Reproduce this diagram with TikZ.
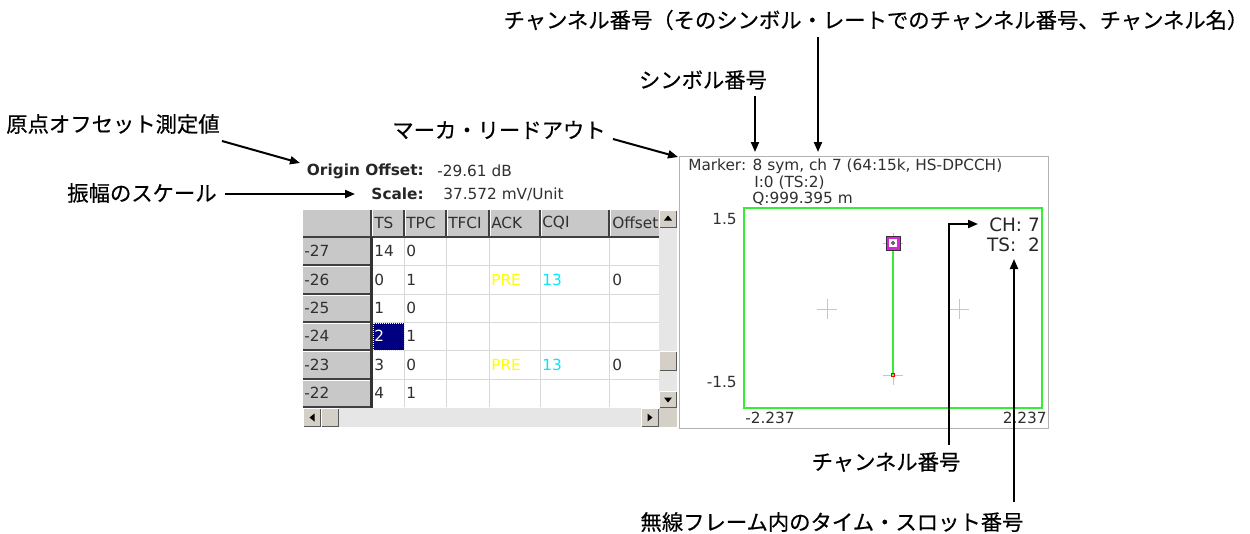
\documentclass[tikz,border=0pt]{standalone}
\usepackage{fontspec}
\setmainfont{DejaVu Sans}
\newfontfamily\cjk{Noto Sans CJK JP}[FakeBold=0.5]
\usetikzlibrary{arrows.meta}
\definecolor{uitext}{HTML}{303030}
\definecolor{btn}{HTML}{D4D0C8}
\definecolor{hdr}{HTML}{C8C8C8}
\definecolor{gridc}{HTML}{D8D8D8}
\definecolor{sel}{HTML}{000080}
\definecolor{trk}{HTML}{E6E6E6}
\definecolor{pgreen}{HTML}{33EE33}
\definecolor{mag}{HTML}{E020E0}
\definecolor{pre}{HTML}{FFFF00}
\definecolor{cqi}{HTML}{00E8FF}
\newcommand\mybtn[4]{%
  \fill[btn] (#1,#2) rectangle (#3,#4);
  \draw[white,line width=0.8pt] (#1+0.5,#4-0.5)--(#1+0.5,#2+0.5)--(#3-0.5,#2+0.5);
  \draw[black!65,line width=0.8pt] (#1+0.5,#4-0.5)--(#3-0.5,#4-0.5)--(#3-0.5,#2+0.5);}
\begin{document}
\begin{tikzpicture}[x=0.75pt,y=-0.75pt,
  lbl/.style={font=\cjk\fontsize{16}{18}\selectfont, inner sep=0pt},
  ui/.style={font=\fontsize{11.5}{13}\selectfont, text=uitext, inner sep=0pt},
  uib/.style={font=\bfseries\fontsize{11.5}{13}\selectfont, text=black!85, inner sep=0pt},
  cellt/.style={ui, anchor=west},
  big/.style={font=\fontsize{13.8}{15}\selectfont, text=black!85, inner sep=0pt},
  arr/.style={line width=1.5pt, -{Triangle[length=7.5pt,width=6pt]}},
  cross/.style={gray!45, line width=0.6pt}]
\useasboundingbox (0,0) rectangle (1250,533);

% ---------------- left panel: table ----------------
\node[uib, anchor=east] (oolbl) at (424,171) {Origin Offset:};
\node[ui, anchor=west] (ooval) at (437,171) {-29.61 dB};
\node[uib, anchor=east] (sclbl) at (424,194) {Scale:};
\node[ui, anchor=west] (scval) at (443,194) {37.572 mV/Unit};

\fill[hdr] (303,210) rectangle (659,237);
\fill[hdr] (303,237) rectangle (371,407);
\fill[white] (372,237) rectangle (659,407);
\foreach \y in {265,294,322,350,379} \draw[gridc] (372,\y)--(659,\y);
\foreach \x in {404,446,489,540,609} \draw[gridc] (\x,237)--(\x,407);
\foreach \x in {371,404,446,489,540,609} {
  \draw[black!75,line width=1.2pt] (\x,210)--(\x,237);
  \draw[white,line width=0.8pt] (\x+1.5,210)--(\x+1.5,236);}
\draw[black!75,line width=1.4pt] (303,237)--(659,237);
\foreach \y in {265,294,322,350,379,407} {
  \draw[black!75,line width=1.2pt] (303,\y)--(371,\y);
  \draw[white,line width=0.8pt] (303,\y+1.5)--(370,\y+1.5);}
\draw[black!80,line width=1.6pt] (371.5,237)--(371.5,408);
% selected cell
\fill[sel] (373,323) rectangle (404,350);
\draw[white,densely dotted,line width=0.5pt] (373,323) rectangle (404,350);

% header texts
\node[cellt] (hTS) at (374,223) {TS};
\node[cellt] (hTPC) at (406,223) {TPC};
\node[cellt] (hTFCI) at (448,223) {TFCI};
\node[cellt] (hACK) at (491,223) {ACK};
\node[cellt] (hCQI) at (542,223) {CQI};
\node[cellt] (hOff) at (612,223) {Offset};
% row headers
\node[cellt] (r1) at (304,251) {-27};
\node[cellt] (r2) at (304,279.5) {-26};
\node[cellt] (r3) at (304,308) {-25};
\node[cellt] (r4) at (304,336) {-24};
\node[cellt] (r5) at (304,364.5) {-23};
\node[cellt] (r6) at (304,393) {-22};
% cells
\node[cellt] (c11) at (374,251) {14};
\node[cellt] (c12) at (406,251) {0};
\node[cellt] (c21) at (374,279.5) {0};
\node[cellt] (c22) at (406,279.5) {1};
\node[cellt, text=pre] (c24) at (491,279.5) {PRE};
\node[cellt, text=cqi] (c25) at (542,279.5) {13};
\node[cellt] (c26) at (612,279.5) {0};
\node[cellt] (c31) at (374,308) {1};
\node[cellt] (c32) at (406,308) {0};
\node[cellt, text=white] (c41) at (374,336) {2};
\node[cellt] (c42) at (406,336) {1};
\node[cellt] (c51) at (374,364.5) {3};
\node[cellt] (c52) at (406,364.5) {0};
\node[cellt, text=pre] (c54) at (491,364.5) {PRE};
\node[cellt, text=cqi] (c55) at (542,364.5) {13};
\node[cellt] (c56) at (612,364.5) {0};
\node[cellt] (c61) at (374,393) {4};
\node[cellt] (c62) at (406,393) {1};

% vertical scrollbar
\fill[trk] (659,210) rectangle (677,408);
\mybtn{659}{210}{677}{228}
\fill[black] (668,215.5)--(664,220.5)--(672,220.5)--cycle;
\mybtn{659}{351}{677}{371}
\mybtn{659}{391}{677}{408}
\fill[black] (668,402.5)--(664,397.5)--(672,397.5)--cycle;
% horizontal scrollbar
\fill[trk] (303,408) rectangle (659,427);
\mybtn{303}{408}{321}{427}
\fill[black] (309.5,417.5)--(314.5,413.5)--(314.5,421.5)--cycle;
\mybtn{321}{408}{339}{427}
\mybtn{641}{408}{659}{427}
\fill[black] (652.5,417.5)--(647.5,413.5)--(647.5,421.5)--cycle;
\fill[btn] (659,408) rectangle (677,427);

% ---------------- right panel: constellation ----------------
\draw[gray!60, fill=white] (679,156) rectangle (1048,428);
\node[ui, anchor=west] (mk1) at (688,166) {Marker: 8 sym, ch 7 (64:15k, HS-DPCCH)};
\node[ui, anchor=west] (mk2) at (754,183) {I:0 (TS:2)};
\node[ui, anchor=west] (mk3) at (752,199) {Q:999.395 m};
\draw[pgreen, line width=1.5pt] (744,208) rectangle (1042,408);
\node[ui, anchor=east] (y1) at (737,219) {1.5};
\node[ui, anchor=east] (y2) at (737,382) {-1.5};
\node[ui, anchor=west] (x1) at (745,418) {-2.237};
\node[ui, anchor=east] (x2) at (1047,418) {2.237};
\foreach \cx/\cy in {827/309, 959/309, 893/243, 893/375}
  \draw[cross] (\cx-10,\cy)--(\cx+10,\cy) (\cx,\cy-10)--(\cx,\cy+10);
\draw[pgreen, line width=1pt] (893,250)--(893,375);
\draw[black!80, fill=mag, line width=0.6pt] (886,236) rectangle (900,250);
\fill[white] (889,239) rectangle (897,247);
\draw[black!80, line width=0.6pt] (893,243) circle (1.5);
\draw[red, line width=0.8pt] (891.5,373.5) rectangle (894.5,376.5);
\node[big, anchor=east] (chv) at (1040,225) {CH: 7};
\node[big, anchor=east] (tsv) at (1040,245) {TS:\ \ 2};

% ---------------- callout labels ----------------
\node[lbl] (ltop) at (876,20) {チャンネル番号（そのシンボル・レートでのチャンネル番号、チャンネル名）};
\node[lbl] (lsym) at (703,80) {シンボル番号};
\node[lbl] (lmk) at (499,130) {マーカ・リードアウト};
\node[lbl] (lorg) at (113,124) {原点オフセット測定値};
\node[lbl] (lscl) at (142,193) {振幅のスケール};
\node[lbl] (lch) at (886,462) {チャンネル番号};
\node[lbl] (lts) at (832,522) {無線フレーム内のタイム・スロット番号};

\coordinate (aTop0) at (818,37);
\coordinate (aTop1) at (818,152);
\coordinate (aSym0) at (755,96);
\coordinate (aSym1) at (755,152);
\coordinate (aMk0) at (613,139);
\coordinate (aMk1) at (678,157);
\coordinate (aOrg0) at (222,141);
\coordinate (aOrg1) at (300,163);
\coordinate (aScl0) at (225,194);
\coordinate (aScl1) at (355,194);
\coordinate (aCh0) at (949,445);
\coordinate (aCh1) at (978,224);
\coordinate (aTs0) at (1014,502);
\coordinate (aTs1) at (1014,259);

\draw[arr] (aTop0) -- (aTop1);
\draw[arr] (aSym0) -- (aSym1);
\draw[arr] (aMk0) -- (aMk1);
\draw[arr] (aOrg0) -- (aOrg1);
\draw[arr] (aScl0) -- (aScl1);
\draw[arr] (aCh0) |- (aCh1);
\draw[arr] (aTs0) -- (aTs1);
\end{tikzpicture}
\end{document}
